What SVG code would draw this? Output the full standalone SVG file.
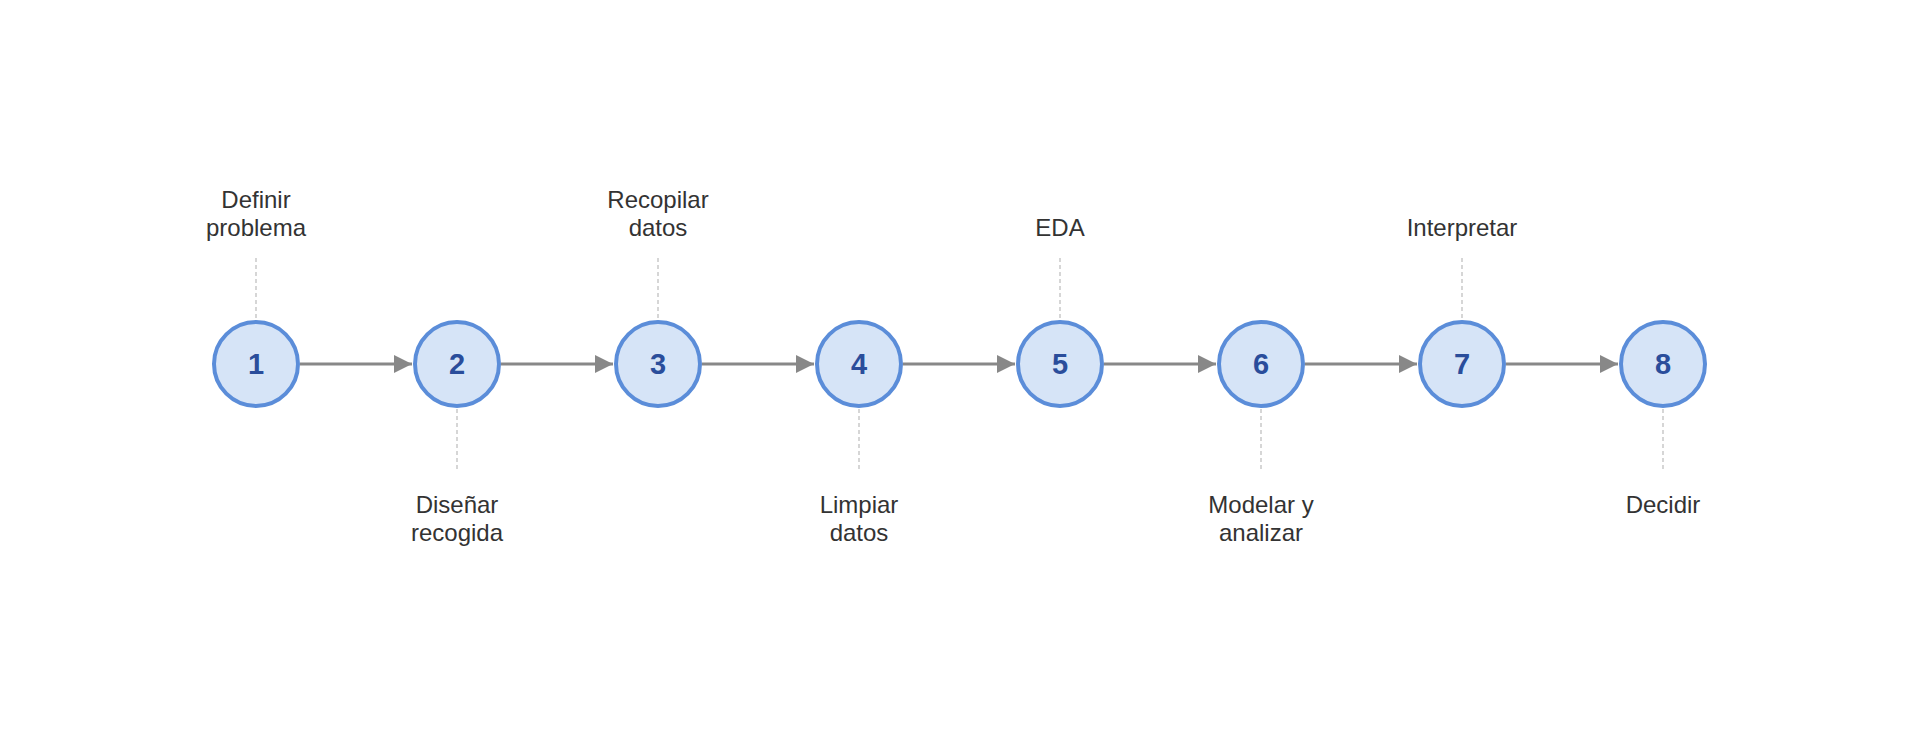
<svg xmlns="http://www.w3.org/2000/svg" width="1920" height="729" viewBox="0 0 1920 729">
<style>
.c{fill:#d6e4f7;stroke:#5b8dd9;stroke-width:4}
.n{font-family:"Liberation Sans",Arial,sans-serif;font-weight:bold;font-size:29px;fill:#2a4d9b;text-anchor:middle}
.l{font-family:"Liberation Sans",Arial,sans-serif;font-size:24px;fill:#333;text-anchor:middle}
.d{stroke:#bbb;stroke-width:1.2;stroke-dasharray:4 3}
.a{stroke:#888;stroke-width:3;fill:none;marker-end:url(#ah)}
</style>
<defs><marker id="ah" viewBox="0 0 10 10" refX="10" refY="5" markerWidth="6" markerHeight="6" markerUnits="strokeWidth" orient="auto"><path d="M0,0L10,5L0,10z" fill="#888"/></marker></defs>
<rect width="1920" height="729" fill="#fff"/>
<g id="connectors">
<line class="a" x1="300" y1="364" x2="412" y2="364"/>
<line class="a" x1="501" y1="364" x2="613" y2="364"/>
<line class="a" x1="702" y1="364" x2="814" y2="364"/>
<line class="a" x1="903" y1="364" x2="1015" y2="364"/>
<line class="a" x1="1104" y1="364" x2="1216" y2="364"/>
<line class="a" x1="1305" y1="364" x2="1417" y2="364"/>
<line class="a" x1="1506" y1="364" x2="1618" y2="364"/>
<line class="d" x1="256" y1="258" x2="256" y2="319"/>
<line class="d" x1="457" y1="409" x2="457" y2="470"/>
<line class="d" x1="658" y1="258" x2="658" y2="319"/>
<line class="d" x1="859" y1="409" x2="859" y2="470"/>
<line class="d" x1="1060" y1="258" x2="1060" y2="319"/>
<line class="d" x1="1261" y1="409" x2="1261" y2="470"/>
<line class="d" x1="1462" y1="258" x2="1462" y2="319"/>
<line class="d" x1="1663" y1="409" x2="1663" y2="470"/>
</g>
<g id="n1"><circle class="c" cx="256" cy="364" r="42"/><text class="n" x="256" y="374">1</text><text class="l" x="256" y="208">Definir</text><text class="l" x="256" y="236">problema</text></g>
<g id="n2"><circle class="c" cx="457" cy="364" r="42"/><text class="n" x="457" y="374">2</text><text class="l" x="457" y="513">Diseñar</text><text class="l" x="457" y="541">recogida</text></g>
<g id="n3"><circle class="c" cx="658" cy="364" r="42"/><text class="n" x="658" y="374">3</text><text class="l" x="658" y="208">Recopilar</text><text class="l" x="658" y="236">datos</text></g>
<g id="n4"><circle class="c" cx="859" cy="364" r="42"/><text class="n" x="859" y="374">4</text><text class="l" x="859" y="513">Limpiar</text><text class="l" x="859" y="541">datos</text></g>
<g id="n5"><circle class="c" cx="1060" cy="364" r="42"/><text class="n" x="1060" y="374">5</text><text class="l" x="1060" y="236">EDA</text></g>
<g id="n6"><circle class="c" cx="1261" cy="364" r="42"/><text class="n" x="1261" y="374">6</text><text class="l" x="1261" y="513">Modelar y</text><text class="l" x="1261" y="541">analizar</text></g>
<g id="n7"><circle class="c" cx="1462" cy="364" r="42"/><text class="n" x="1462" y="374">7</text><text class="l" x="1462" y="236">Interpretar</text></g>
<g id="n8"><circle class="c" cx="1663" cy="364" r="42"/><text class="n" x="1663" y="374">8</text><text class="l" x="1663" y="513">Decidir</text></g>
</svg>
